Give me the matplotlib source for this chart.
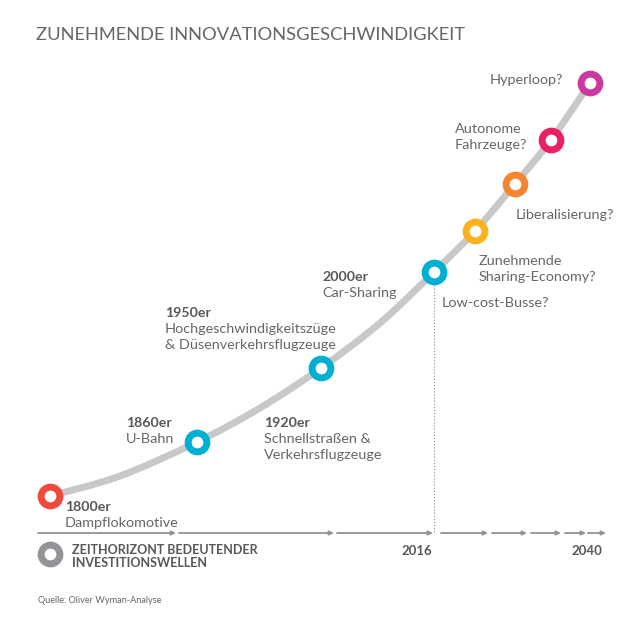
import numpy as np
import matplotlib
matplotlib.use('Agg')
import matplotlib.pyplot as plt
from matplotlib.path import Path
from matplotlib.patches import PathPatch

plt.rcParams['font.family'] = ['Lato', 'DejaVu Sans']

# values
title = 'ZUNEHMENDE INNOVATIONSGESCHWINDIGKEIT'
curve_x = [50, 120, 197, 260, 321, 380, 434, 475, 515, 551, 590]
curve_y = [496, 476, 442, 408, 368, 323, 272, 231, 184, 140, 83]
marker_x = [50, 197, 321, 434, 475, 515, 551, 590]
marker_y = [496, 442, 368, 272, 231, 184, 140, 83]
marker_colors = ['#ee4b3e', '#00afd1', '#00afd1', '#00afd1', '#fdb11e', '#f58431', '#ea1f64', '#c93a9c']
arrow_starts = [38, 179, 337, 441, 492, 531, 565, 588]
arrow_ends = [176, 334, 433, 488, 527, 561, 586, 606]

# bold label, text, x, y of the first baseline
labels = [
    ('1800er', ['Dampflokomotive'], 65, 511),
    ('1860er', ['U-Bahn'], 126, 427),
    ('1950er', ['Hochgeschwindigkeitszüge', '& Düsenverkehrsflugzeuge'], 165, 317),
    ('1920er', ['Schnellstraßen &', 'Verkehrsflugzeuge'], 264, 427),
    ('2000er', ['Car-Sharing'], 322, 281),
    (None, ['Low-cost-Busse?'], 442, 307),
    (None, ['Zunehmende', 'Sharing-Economy?'], 479, 265),
    (None, ['Liberalisierung?'], 516, 219),
    (None, ['Autonome', 'Fahrzeuge?'], 455, 133),
    (None, ['Hyperloop?'], 490, 84),
]

TEXT = '#666668'
DARK = '#58585a'

fig = plt.figure(figsize=(6.3, 6.3), dpi=100)
ax = fig.add_axes([0, 0, 1, 1])
ax.set_xlim(0, 630)
ax.set_ylim(630, 0)
ax.axis('off')

ax.text(36, 40, title, fontsize=13.2, color=TEXT, va='baseline')

# smooth line through the read points (catmull-rom as bezier pieces)
pts = np.column_stack([curve_x, curve_y]).astype(float)
verts = [pts[0]]
codes = [Path.MOVETO]
for i in range(len(pts) - 1):
    p0 = pts[max(i - 1, 0)]
    p1 = pts[i]
    p2 = pts[i + 1]
    p3 = pts[min(i + 2, len(pts) - 1)]
    verts += [p1 + (p2 - p0) / 6, p2 - (p3 - p1) / 6, p2]
    codes += [Path.CURVE4] * 3
ax.add_patch(PathPatch(Path(verts, codes), fill=False, edgecolor='#c8c8c8', lw=5, capstyle='butt', zorder=2))

ax.plot([434, 434], [285, 533], color='#8a8a8a', lw=0.8, ls=(0, (1, 1.8)), zorder=1)

for x, y, c in zip(marker_x, marker_y, marker_colors):
    ax.plot(x, y, 'o', ms=13.5, mfc='white', mec=c, mew=5, zorder=3)

for head, lines, x, y in labels:
    if head:
        ax.text(x, y, head, fontsize=10.2, color=DARK, fontweight='bold', va='baseline')
        y += 16
    for line in lines:
        ax.text(x, y, line, fontsize=10.4, color=TEXT, va='baseline')
        y += 16

for a, b in zip(arrow_starts, arrow_ends):
    ax.annotate('', xy=(b, 533), xytext=(a, 533),
                arrowprops=dict(arrowstyle='-|>,head_length=0.25,head_width=0.12', color='#929292', lw=1.3,
                                shrinkA=0, shrinkB=0))

ax.plot(50, 554, 'o', ms=13.5, mfc='white', mec='#929497', mew=5)
ax.text(72, 554, 'ZEITHORIZONT BEDEUTENDER', fontsize=9, color=DARK, fontweight='bold', va='baseline')
ax.text(72, 567, 'INVESTITIONSWELLEN', fontsize=9, color=DARK, fontweight='bold', va='baseline')
ax.text(401, 555, '2016', fontsize=9.5, color=DARK, fontweight='bold', va='baseline')
ax.text(571, 555, '2040', fontsize=9.5, color=DARK, fontweight='bold', va='baseline')
ax.text(38, 603, 'Quelle: Oliver Wyman-Analyse', fontsize=6.6, color=TEXT, va='baseline')

fig.savefig('out.png', dpi=100)
